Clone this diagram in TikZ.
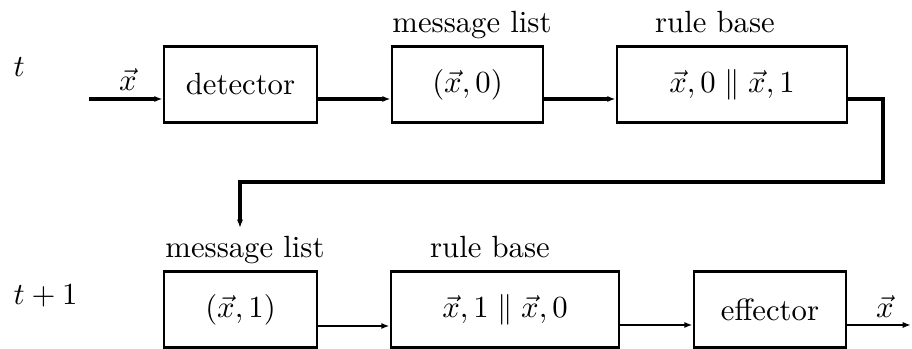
\documentclass[tikz,border=0pt]{standalone}
\usetikzlibrary{arrows.meta}
\tikzset{
  box/.style={draw, line width=0.95pt, inner sep=0pt, minimum width=#1*0.3257pt, minimum height=76*0.3257pt},
  lbl/.style={anchor=base, inner sep=0pt},
  wire/.style={line width=1pt},
  thinwire/.style={line width=0.65pt},
  arr/.style={wire, -{Latex[length=2.7pt,width=2pt]}},
  thinarr/.style={thinwire, -{Latex[length=2.7pt,width=2pt]}}
}
\begin{document}
\begin{tikzpicture}[x=0.3257pt, y=-0.3257pt]
\useasboundingbox (0,0) rectangle (912,349);

% time step labels
\node[anchor=base west, inner sep=0pt] (tA) at (13,77) {$t$};
\node[anchor=base west, inner sep=0pt] (tB) at (13,305) {$t+1$};

% step t
\node[box=153] (det) at (240.5,84.5) {detector};
\node[box=151] (ml1) at (467.5,84.5) {$(\vec{x},0)$};
\node[box=230] (rb1) at (732,84.5) {$\vec{x},0\parallel\vec{x},1$};
\node[lbl] (ml1t) at (472,33) {message list};
\node[lbl] (rb1t) at (715,33) {rule base};

% step t+1
\node[box=153] (ml2) at (240.5,309.5) {$(\vec{x},1)$};
\node[box=228] (rb2) at (505,309.5) {$\vec{x},1\parallel\vec{x},0$};
\node[box=152] (eff) at (770,309.5) {effector};
\node[lbl] (ml2t) at (245,258) {message list};
\node[lbl] (rb2t) at (490,258) {rule base};

% input and output
\coordinate (in) at (89,99);
\coordinate (out) at (911,325);
\node[lbl] (xin) at (128,91) {$\vec{x}$};
\node[lbl] (xout) at (885,318) {$\vec{x}$};

% feedback route
\coordinate (fa) at (883,99);
\coordinate (fb) at (883,182);
\coordinate (fc) at (240,182);
\coordinate (fd) at (240,228);

\draw[arr] (in) -- (in -| det.west);
\draw[arr] (det.east |- in) -- (ml1.west |- in);
\draw[arr] (ml1.east |- in) -- (rb1.west |- in);
\draw[arr] (rb1.east |- fa) -- (fa) -- (fb) -- (fc) -- (fd);

\coordinate (r2) at (0,326);
\draw[thinarr] (ml2.east |- r2) -- (rb2.west |- r2);
\draw[thinarr] (rb2.east |- out) -- (eff.west |- out);
\draw[thinarr] (eff.east |- out) -- (out);
\end{tikzpicture}
\end{document}
